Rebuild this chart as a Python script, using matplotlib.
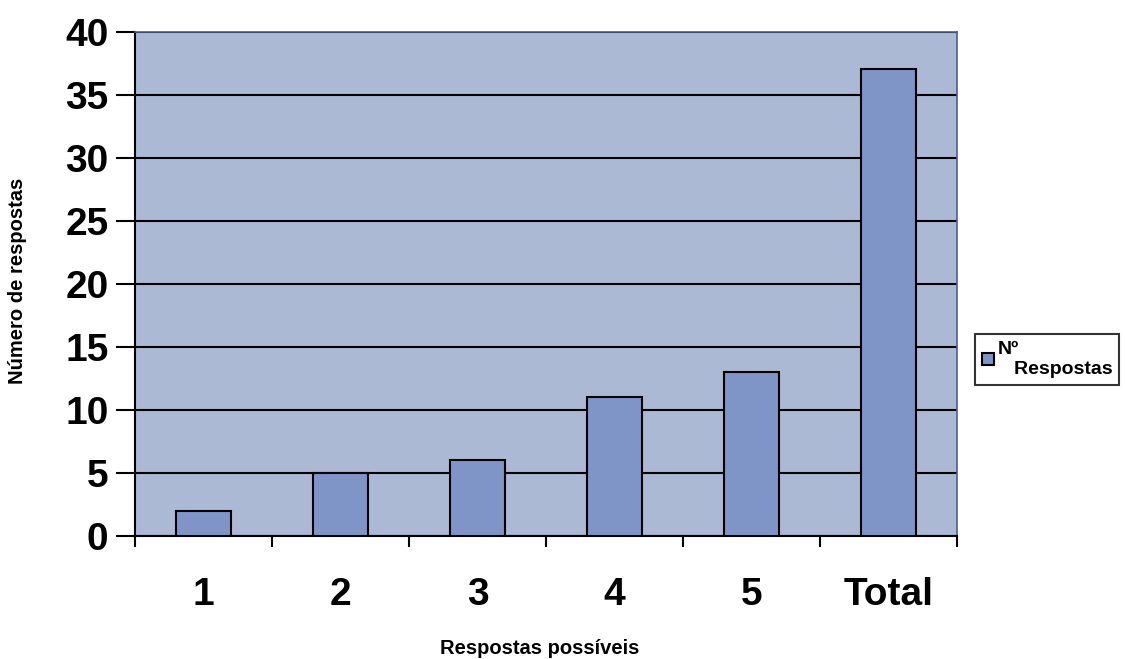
import numpy as np
import matplotlib
matplotlib.use("Agg")
import matplotlib.pyplot as plt

plt.rcParams['font.family'] = ['Liberation Sans', 'DejaVu Sans']

# respostas por opção
categorias = ['1', '2', '3', '4', '5', 'Total']
n_respostas = [2, 5, 6, 11, 13, 37]

fig = plt.figure(figsize=(11.25, 6.59), dpi=100)
ax = fig.add_axes([0.12, 0.187, 0.731, 0.765])

x = np.arange(len(categorias))
ax.bar(x, n_respostas, width=0.4, color='#7f94c7', edgecolor='black',
       linewidth=1.5, label='Nº\n   Respostas', zorder=3)

ax.set_facecolor('#acb9d5')
ax.set_xlim(-0.5, len(categorias) - 0.5)
ax.set_ylim(0, 40)
ax.set_yticks(range(0, 41, 5))
ax.yaxis.grid(True, color='black', linewidth=1.5, zorder=1)

# marcas do eixo x entre as categorias
ax.set_xticks(np.arange(-0.5, len(categorias), 1))
ax.set_xticklabels([])
ax.set_xticks(x, minor=True)
ax.set_xticklabels(categorias, minor=True, fontsize=28, fontweight='bold')
ax.tick_params(axis='x', which='minor', length=0, pad=30)
ax.tick_params(axis='x', which='major', length=8, width=1.5, direction='out')
ax.tick_params(axis='y', length=14, width=1.5, labelsize=28, pad=5)
for lab in ax.get_yticklabels():
    lab.set_fontweight('bold')

for s in ['left', 'bottom']:
    ax.spines[s].set_color('black')
    ax.spines[s].set_linewidth(1.5)
for s in ['top', 'right']:
    ax.spines[s].set_color('#4a5d8f')
    ax.spines[s].set_linewidth(1.2)

fig.text(0.48, 1 - 648 / 659, 'Respostas possíveis', fontsize=14.5,
         fontweight='bold', ha='center', va='center')
fig.text(0.016, 1 - 281 / 659, 'Número de respostas', fontsize=14.5,
         fontweight='bold', ha='center', va='center', rotation=90)

leg = ax.legend(loc='center left', bbox_to_anchor=(1.022, 0.35), fontsize=14,
                frameon=True, fancybox=False, edgecolor='black',
                handlelength=0.6, handleheight=0.6, handletextpad=0.2,
                borderpad=0.35, borderaxespad=0)
leg.get_frame().set_linewidth(1.5)
for t in leg.get_texts():
    t.set_fontweight('bold')
    t.set_linespacing(1.25)

fig.savefig('out.png', dpi=100)
